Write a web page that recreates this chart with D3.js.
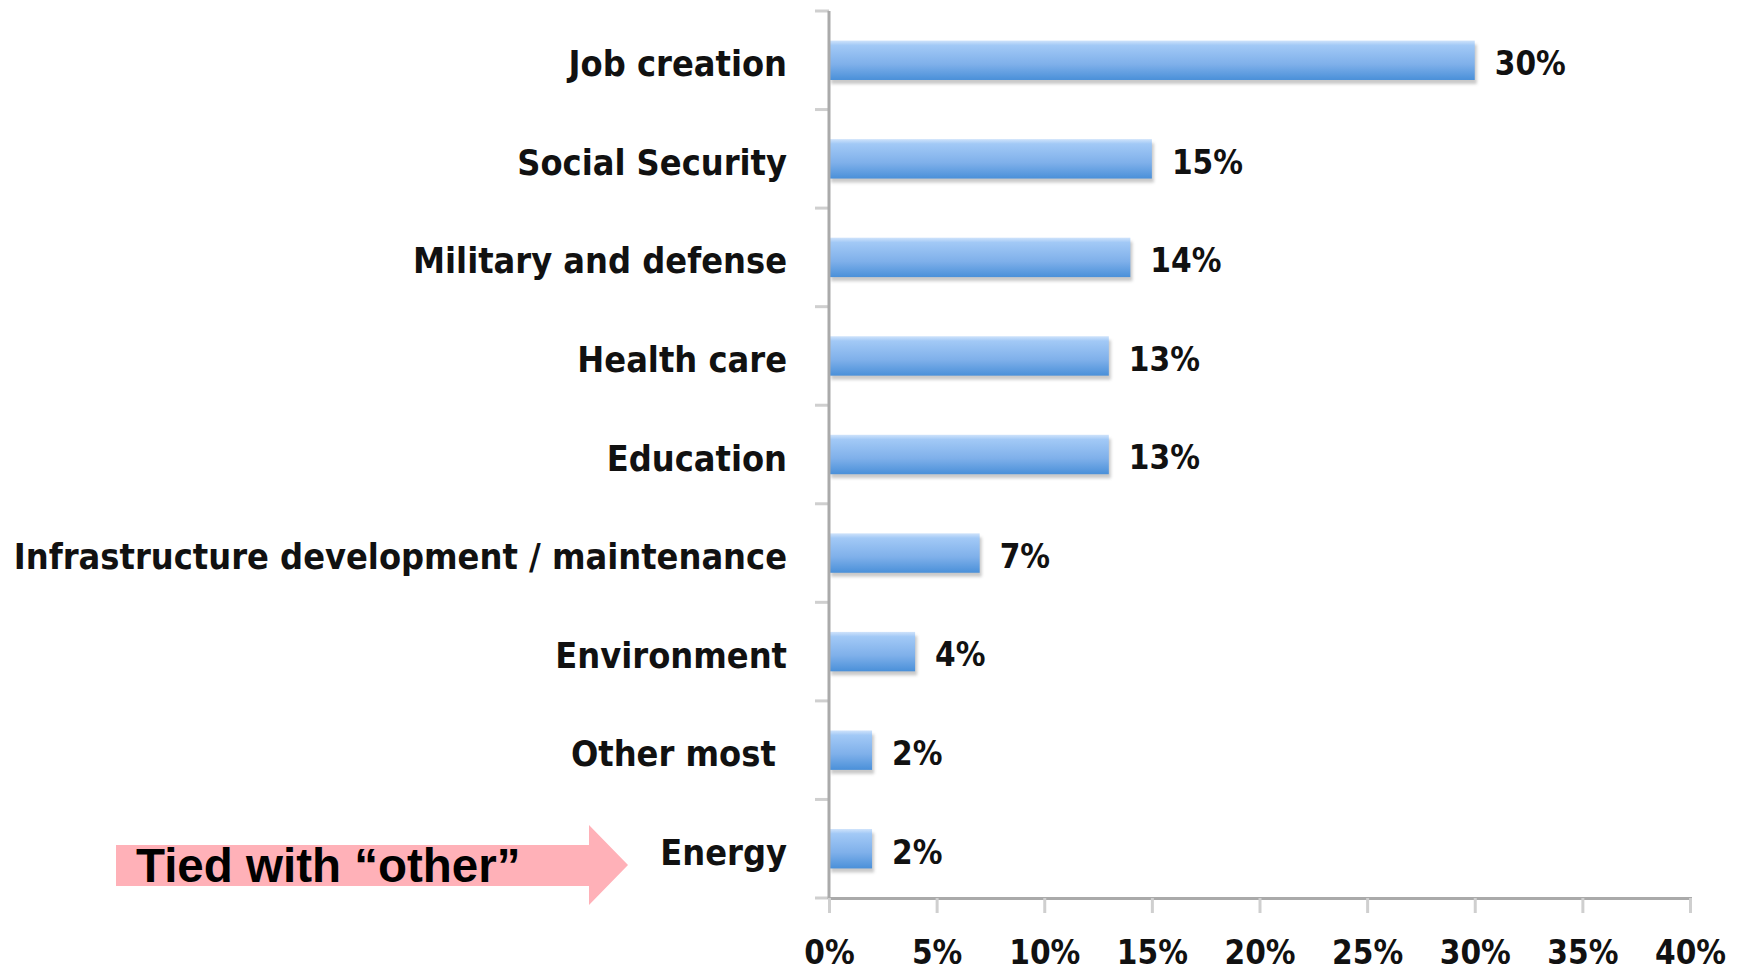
<!DOCTYPE html>
<html>
<head>
    <meta charset="utf-8" />
    <title></title>
    <style>
        body { margin: 0; background: #fff; }
        .cat, .val, .tick-label {
            font-family: "DejaVu Sans Condensed", "DejaVu Sans", sans-serif;
            font-weight: bold;
            fill: #111;
        }
        .note {
            font-family: "Liberation Sans", Arial, sans-serif;
            font-weight: bold;
            fill: #000;
        }
    </style>
</head>
<body>
    <script src="https://d3js.org/d3.v7.min.js"></script>
    <script>
      var categories = ["Job creation", "Social Security", "Military and defense", "Health care",
                        "Education", "Infrastructure development / maintenance", "Environment",
                        "Other most\u00a0", "Energy"];
      var values = [0.30, 0.15, 0.14, 0.13, 0.13, 0.07, 0.04, 0.02, 0.02];
      var valueLabels = ["30%", "15%", "14%", "13%", "13%", "7%", "4%", "2%", "2%"];
      var xTicks = [0, 0.05, 0.10, 0.15, 0.20, 0.25, 0.30, 0.35, 0.40];
      var note = "Tied with \u201cother\u201d";

      var width = 1743, height = 975;
      var svg = d3.select("body").append("svg")
          .attr("width", width)
          .attr("height", height);

      var x = d3.scaleLinear().domain([0, 0.4]).range([829, 1690]);
      var y = d3.scaleBand().domain(categories).range([11, 898]).padding(0);
      var barH = y.bandwidth() * 0.4;

      var defs = svg.append("defs");
      var grad = defs.append("linearGradient")
          .attr("id", "barGrad")
          .attr("x1", 0).attr("y1", 0).attr("x2", 0).attr("y2", 1);
      grad.append("stop").attr("offset", "0%").attr("stop-color", "#cfe3fb");
      grad.append("stop").attr("offset", "12%").attr("stop-color", "#a2c9f6");
      grad.append("stop").attr("offset", "60%").attr("stop-color", "#7fb0ea");
      grad.append("stop").attr("offset", "100%").attr("stop-color", "#4a90d9");

      defs.append("filter").attr("id", "blur")
        .append("feGaussianBlur").attr("stdDeviation", 1.5);

      // bar shadows
      svg.append("g").selectAll("rect")
        .data(values)
        .enter().append("rect")
        .attr("x", x(0) + 2)
        .attr("y", function(d, i) { return y(categories[i]) + (y.bandwidth() - barH) / 2 + 4; })
        .attr("width", function(d) { return x(d) - x(0); })
        .attr("height", barH)
        .attr("fill", "#888")
        .attr("opacity", 0.45)
        .attr("filter", "url(#blur)");

      // bars
      svg.append("g").selectAll("rect")
        .data(values)
        .enter().append("rect")
        .attr("x", x(0) + 1)
        .attr("y", function(d, i) { return y(categories[i]) + (y.bandwidth() - barH) / 2; })
        .attr("width", function(d) { return x(d) - x(0) - 1; })
        .attr("height", barH)
        .attr("fill", "url(#barGrad)");

      // value labels
      svg.append("g").selectAll("text")
        .data(values)
        .enter().append("text")
        .attr("class", "val")
        .attr("x", function(d) { return x(d) + 20; })
        .attr("y", function(d, i) { return y(categories[i]) + y.bandwidth() / 2; })
        .attr("dy", "0.45em")
        .style("font-size", "33px")
        .text(function(d, i) { return valueLabels[i]; });

      // category labels
      svg.append("g").selectAll("text")
        .data(categories)
        .enter().append("text")
        .attr("class", "cat")
        .attr("x", 787)
        .attr("y", function(d) { return y(d) + y.bandwidth() / 2; })
        .attr("dy", "0.45em")
        .attr("text-anchor", "end")
        .style("font-size", "35.8px")
        .style("white-space", "pre")
        .text(function(d) { return d; });

      // y axis: line + boundary ticks
      var bounds = categories.map(function(d) { return y(d); }).concat([898]);
      svg.append("g").selectAll("line")
        .data(bounds)
        .enter().append("line")
        .attr("x1", 815).attr("x2", 829)
        .attr("y1", function(d) { return d; })
        .attr("y2", function(d) { return d; })
        .attr("stroke", "#cfcfcf")
        .attr("stroke-width", 3);
      svg.append("line")
        .attr("x1", 829).attr("x2", 829)
        .attr("y1", 11).attr("y2", 899)
        .attr("stroke", "#aaa")
        .attr("stroke-width", 3);

      // x axis
      var xAxis = svg.append("g")
        .attr("transform", "translate(0,898)")
        .call(d3.axisBottom(x).tickValues(xTicks).tickSize(15).tickPadding(28)
              .tickFormat(d3.format(".0%")));
      xAxis.select(".domain").attr("stroke", "#aaa").attr("stroke-width", 3);
      xAxis.selectAll(".tick line").attr("stroke", "#cfcfcf").attr("stroke-width", 3);
      xAxis.selectAll(".tick text")
        .attr("class", "tick-label")
        .attr("fill", "#111")
        .style("font-size", "33px");

      // annotation arrow
      var arrow = d3.path();
      arrow.moveTo(116, 845);
      arrow.lineTo(589, 845);
      arrow.lineTo(589, 825);
      arrow.lineTo(628, 865);
      arrow.lineTo(589, 905);
      arrow.lineTo(589, 886);
      arrow.lineTo(116, 886);
      arrow.closePath();
      svg.append("path").attr("d", arrow.toString()).attr("fill", "#ffb1b8");
      svg.append("text")
        .attr("class", "note")
        .attr("x", 136)
        .attr("y", 882)
        .style("font-size", "47.5px")
        .text(note);
    </script>
</body>
</html>
